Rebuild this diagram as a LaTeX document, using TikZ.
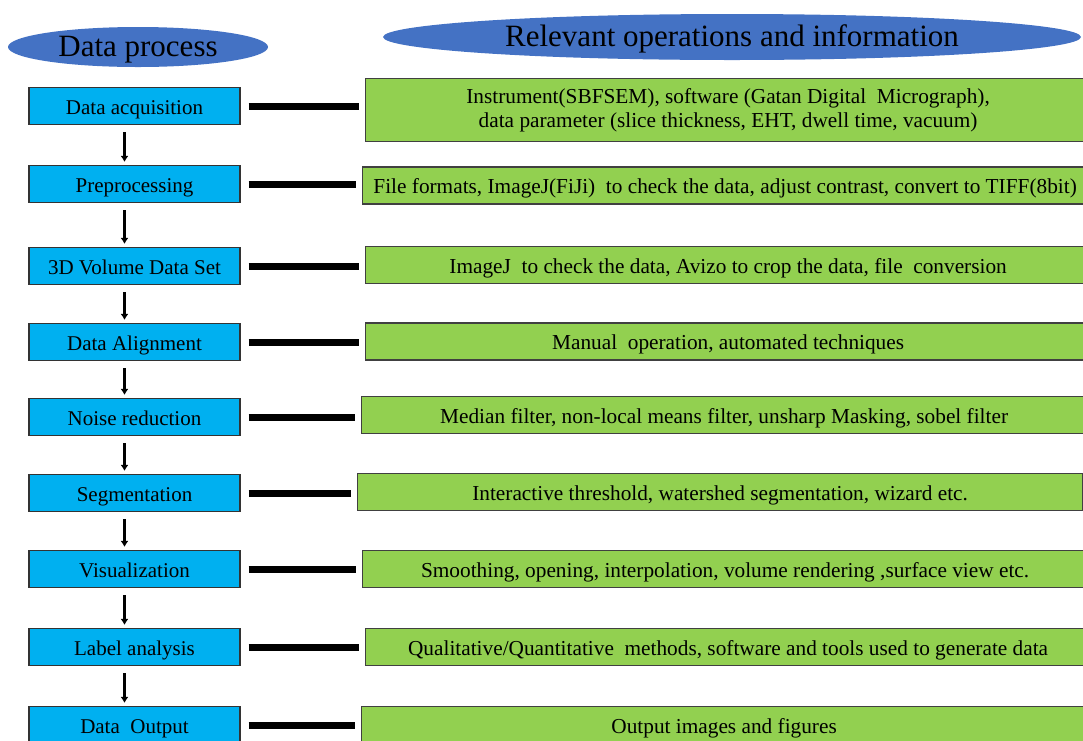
\documentclass[tikz,border=0pt]{standalone}
\usepackage{fontspec}
\setmainfont{Liberation Serif}
\usetikzlibrary{shapes.geometric,arrows.meta}
\definecolor{ovalblue}{HTML}{4472C4}
\definecolor{procblue}{HTML}{00B0F0}
\definecolor{infogreen}{HTML}{92D050}
\tikzset{
  oneline/.style={text height=16pt, text depth=0pt},
  headoval/.style={ellipse, fill=ovalblue, inner sep=0pt, text height=19.5pt, text depth=0pt,
    font=\fontsize{31}{33}\selectfont},
  procbox/.style={draw=black!80, line width=1.2pt, fill=procblue, minimum width=211pt,
    minimum height=37pt, inner sep=0pt, oneline, font=\fontsize{21}{24}\selectfont},
  infobox/.style={draw=black!75, line width=1.2pt, fill=infogreen, anchor=west, minimum width=725pt,
    minimum height=37pt, inner sep=0pt, align=center, font=\fontsize{21.3}{24}\selectfont},
  link/.style={line width=7pt, shorten <=8pt, shorten >=6pt},
  flow/.style={line width=3pt, -{Latex[length=6pt,width=8pt]}, shorten <=7pt, shorten >=3pt}
}
\begin{document}
\begin{tikzpicture}[x=1pt,y=-1pt]
\useasboundingbox (0,0) rectangle (1083,740);
\clip (0,0) rectangle (1083,740);
\node[headoval, minimum width=260pt, minimum height=40pt] (proc-head) at (138,47) {Data process};
\node[headoval, minimum width=698pt, minimum height=46pt] (info-head) at (732,37) {Relevant operations and information};

\node[procbox] (acq) at (134.5,106) {Data acquisition};
\node[procbox] (pre) at (134.5,184) {Preprocessing};
\node[procbox] (vol) at (134.5,266) {3D Volume Data Set};
\node[procbox] (align) at (134.5,342) {Data Alignment};
\node[procbox] (noise) at (134.5,417) {Noise reduction};
\node[procbox] (seg) at (134.5,493) {Segmentation};
\node[procbox] (vis) at (134.5,569) {Visualization};
\node[procbox] (label) at (134.5,647) {Label analysis};
\node[procbox] (out) at (134.5,725) {Data\ \ Output};

\node[infobox, minimum height=63pt] (acq-info) at (365,110) {Instrument(SBFSEM), software (Gatan Digital\ \ Micrograph),\\data parameter (slice thickness, EHT, dwell time, vacuum)};
\node[infobox, oneline] (pre-info) at (362,185.5) {File formats, ImageJ(FiJi)\ \ to check the data, adjust contrast, convert to TIFF(8bit)};
\node[infobox, oneline] (vol-info) at (365,265) {ImageJ\ \ to check the data, Avizo to crop the data, file\ \ conversion};
\node[infobox, oneline] (align-info) at (365,341.5) {Manual\ \ operation, automated techniques};
\node[infobox, oneline] (noise-info) at (361,415) {Median filter, non-local means filter, unsharp Masking, sobel filter};
\node[infobox, oneline] (seg-info) at (357,492) {Interactive threshold, watershed segmentation, wizard etc.};
\node[infobox, oneline] (vis-info) at (362,569) {Smoothing, opening, interpolation, volume rendering ,surface view etc.};
\node[infobox, oneline] (label-info) at (365,647) {Qualitative/Quantitative\ \ methods, software and tools used to generate data};
\node[infobox, oneline] (out-info) at (361,725) {Output images and figures};

\foreach \a/\b in {acq/pre,pre/vol,vol/align,align/noise,noise/seg,seg/vis,vis/label,label/out}
  \draw[flow] ([xshift=-10pt]\a.south) -- ([xshift=-10pt]\b.north);
\foreach \a in {acq,pre,vol,align,noise,seg,vis,label,out}
  \draw[link] (\a.east) -- (\a.east -| \a-info.west);
\end{tikzpicture}
\end{document}
